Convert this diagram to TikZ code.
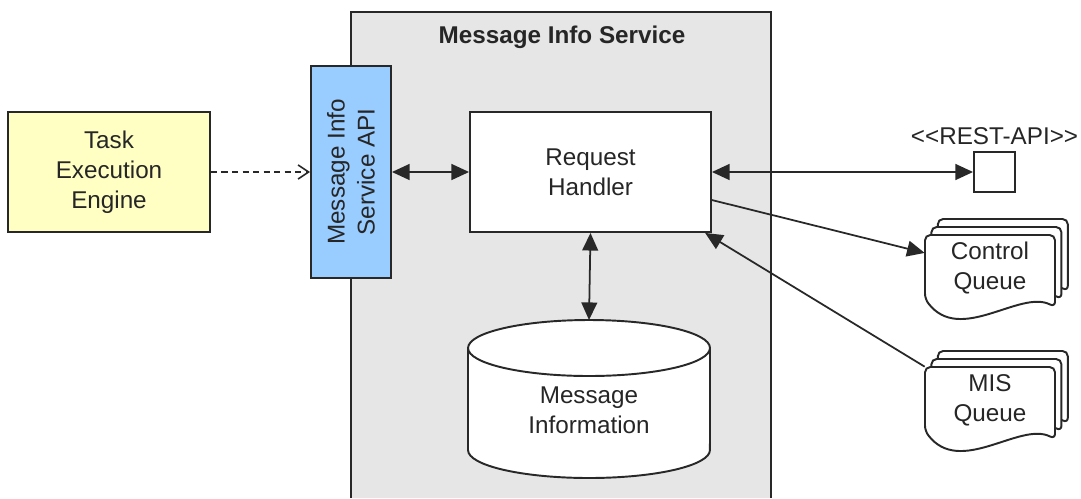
\documentclass[tikz,border=0pt]{standalone}
\usepackage{fontspec}
\setmainfont{Liberation Sans}
\usepackage{tikz}
\usepackage{xcolor}
\definecolor{edge}{RGB}{40,40,40}
\definecolor{svcgray}{RGB}{230,230,230}
\definecolor{engine}{RGB}{255,255,196}
\definecolor{apiblue}{RGB}{153,204,255}
\usetikzlibrary{calc,shapes,positioning,arrows.meta}

% stack of three documents, front one at (#2,#3), node #1 holds the text
\newcommand{\queue}[4]{%
    \foreach \d in {16,8,0} {
        \draw[draw=edge,line width=1.1pt,fill=white,rounded corners=3pt]
            (#2+\d*0.8,#3+64-\d) -- (#2+\d*0.8,#3-\d) -- (#2+130+\d*0.8,#3-\d)
            -- (#2+130+\d*0.8,#3+72-\d)
            .. controls (#2+95+\d*0.8,#3+54-\d) and (#2+35+\d*0.8,#3+110-\d) .. (#2+\d*0.8,#3+64-\d) -- cycle;
    }
    \node[align=center,text=black!85,minimum width=2.6cm,minimum height=1.32cm] (#1) at (#2+65,#3+33) {#4};
}

\begin{document}
\begin{tikzpicture}[x=0.02cm,y=-0.02cm,font=\fontsize{13.8}{17}\selectfont,
        box/.style={draw=edge,line width=1.1pt,align=center,text=black!85},
        arrow/.style={draw=edge,line width=1pt,-{Triangle[length=10pt,width=9pt]}},
        biarrow/.style={draw=edge,line width=1pt,{Triangle[length=10pt,width=9pt]}-{Triangle[length=10pt,width=9pt]}},
        dasharrow/.style={draw=edge,line width=0.9pt,dash pattern=on 3.5pt off 2.5pt,-{Straight Barb[length=6pt,width=8pt]}}]
    \useasboundingbox (0,0) rectangle (1081,498);

    % service container
    \fill[svcgray] (351,12) rectangle (771,498);
    \draw[draw=edge,line width=1.1pt] (351,498) |- (771,12) -- (771,498);
    \node[font=\fontsize{13.8}{17}\selectfont\bfseries,text=black!85] (title) at (562,37) {Message Info Service};

    \node[box,fill=engine,minimum width=4.04cm,minimum height=2.4cm] (engine) at (109,172) {Task\\Execution\\Engine};
    \node[box,fill=apiblue,rotate=90,minimum width=4.24cm,minimum height=1.6cm] (api) at (351,172) {Message Info\\Service API};
    \node[box,fill=white,minimum width=4.82cm,minimum height=2.4cm] (handler) at (590.5,172) {Request\\Handler};

    % database
    \draw[draw=edge,line width=1.1pt,fill=white] (468,348) -- (468,450)
        arc[start angle=180,end angle=360,x radius=2.42cm,y radius=0.56cm] -- (710,348)
        arc[start angle=0,end angle=180,x radius=2.42cm,y radius=0.56cm] -- cycle;
    \draw[draw=edge,line width=1.1pt] (468,348) arc[start angle=180,end angle=360,x radius=2.42cm,y radius=0.56cm];
    \node[align=center,text=black!85] (db) at (589,410) {Message\\Information};
    \coordinate (dbtop) at (589,320);

    \node[box,minimum width=0.82cm,minimum height=0.8cm] (rest) at (994.5,172) {};
    \node[text=black!85,above=0pt of rest] (restlbl) {<\kern0pt<REST-API>\kern0pt>};

    \queue{cq}{925}{235}{Control\\Queue}
    \queue{mq}{925}{367}{MIS\\Queue}

    \draw[dasharrow] (engine.east) -- (api.north);
    \draw[biarrow] (api.south) -- (handler.west);
    \draw[biarrow] (handler.south) -- (dbtop);
    \draw[biarrow] (handler.east) -- (rest.west);
    \draw[arrow] (handler.-13) -- (cq.167);
    \draw[arrow] (mq.north west) -- (handler.-28.5);
\end{tikzpicture}
\end{document}
